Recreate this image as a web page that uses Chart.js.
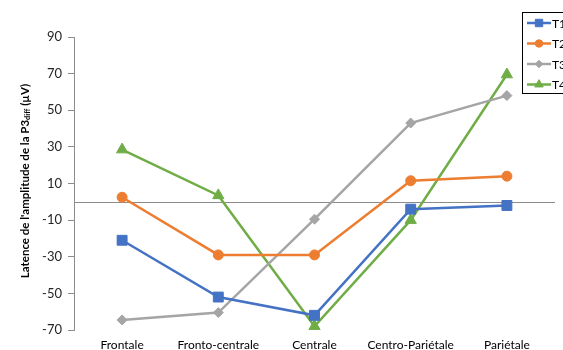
<!DOCTYPE html>
<html>
<head>
<meta charset="utf-8">
<script src="https://cdn.jsdelivr.net/npm/chart.js@4/dist/chart.umd.min.js"></script>
<style>
  html, body { margin: 0; padding: 0; background: #fff; }
  #wrap { width: 563px; height: 350px; position: relative; }
</style>
</head>
<body>
<div id="wrap"><canvas id="chart"></canvas></div>
<script>
// data
const regions = ['Frontale', 'Fronto-centrale', 'Centrale', 'Centro-Pariétale', 'Pariétale'];
const t1 = [-21, -52, -62, -4, -2];
const t2 = [2.5, -29, -29, 11.5, 14];
const t3 = [-64.5, -60.5, -9.5, 43, 58];
const t4 = [28.5, 3.5, -68, -10, 69.5];
const yTicks = [-70, -50, -30, -10, 10, 30, 50, 70, 90];

const FONT = 'Lato, "Open Sans", sans-serif';

function serie(label, data, color, style, radius) {
  return {
    label: label,
    data: data,
    borderColor: color,
    backgroundColor: color,
    borderWidth: 2.5,
    pointStyle: style,
    pointRadius: radius,
    pointHoverRadius: radius,
    pointBorderWidth: 1,
    tension: 0
  };
}

// zero line, y axis title with subscript, legend box
const extras = {
  id: 'extras',
  beforeDatasetsDraw(chart) {
    const ctx = chart.ctx;
    const a = chart.chartArea;
    const y0 = Math.round(chart.scales.y.getPixelForValue(0)) + 0.5;
    ctx.save();
    ctx.strokeStyle = '#8c8c8c';
    ctx.lineWidth = 1;
    ctx.beginPath();
    ctx.moveTo(a.left, y0);
    ctx.lineTo(a.right, y0);
    ctx.stroke();
    ctx.restore();
  },
  afterDraw(chart) {
    const ctx = chart.ctx;
    ctx.save();
    ctx.translate(25, 181);
    ctx.rotate(-Math.PI / 2);
    ctx.fillStyle = '#000';
    ctx.textBaseline = 'middle';
    const p1 = 'Latence de l\'amplitude de la P3';
    const sub = 'diff';
    const p2 = ' (µV)';
    ctx.font = 'bold 11.5px ' + FONT;
    const w1 = ctx.measureText(p1).width;
    const w3 = ctx.measureText(p2).width;
    ctx.font = 'bold 7.5px ' + FONT;
    const w2 = ctx.measureText(sub).width;
    let x = -(w1 + w2 + w3) / 2;
    ctx.font = 'bold 11.5px ' + FONT;
    ctx.fillText(p1, x, 0);
    x += w1;
    ctx.font = 'bold 7.5px ' + FONT;
    ctx.fillText(sub, x, 3);
    x += w2;
    ctx.font = 'bold 11.5px ' + FONT;
    ctx.fillText(p2, x, 0);
    ctx.restore();

    const bx = 522.5, by = 12.5, bw = 60, bh = 81;
    ctx.save();
    ctx.fillStyle = '#fff';
    ctx.fillRect(bx, by, bw, bh);
    ctx.strokeStyle = '#000';
    ctx.lineWidth = 1;
    ctx.strokeRect(bx, by, bw, bh);
    chart.data.datasets.forEach((ds, i) => {
      const ry = 23 + i * 20.5;
      ctx.strokeStyle = ds.borderColor;
      ctx.lineWidth = 2.5;
      ctx.beginPath();
      ctx.moveTo(527, ry);
      ctx.lineTo(551, ry);
      ctx.stroke();
      ctx.fillStyle = ds.borderColor;
      ctx.strokeStyle = ds.borderColor;
      ctx.lineWidth = 1;
      Chart.helpers.drawPoint(ctx, {
        pointStyle: ds.pointStyle,
        radius: ds.pointRadius * 0.75,
        rotation: 0,
        borderWidth: 1
      }, 539, ry);
      ctx.fillStyle = '#000';
      ctx.font = '12px ' + FONT;
      ctx.textBaseline = 'middle';
      ctx.fillText(ds.label, 552, ry + 1);
    });
    ctx.restore();
  }
};

new Chart(document.getElementById('chart'), {
  type: 'line',
  data: {
    labels: regions,
    datasets: [
      serie('T1', t1, '#4472C4', 'rect', 7),
      serie('T2', t2, '#ED7D31', 'circle', 5),
      serie('T3', t3, '#A5A5A5', 'rectRot', 5),
      serie('T4', t4, '#70AD47', 'triangle', 6.5)
    ]
  },
  options: {
    responsive: true,
    maintainAspectRatio: false,
    animation: false,
    layout: { padding: { top: 37, right: 4, left: 0, bottom: 0 } },
    plugins: {
      legend: { display: false },
      tooltip: { enabled: false }
    },
    scales: {
      x: {
        offset: true,
        grid: { display: false, drawTicks: false },
        border: { display: false },
        ticks: {
          color: '#000',
          font: { family: FONT, size: 12 },
          padding: 8,
          maxRotation: 0
        },
        afterFit(scale) { scale.height = 20; }
      },
      y: {
        min: -70,
        max: 90,
        afterBuildTicks(scale) {
          scale.ticks = yTicks.map(v => ({ value: v }));
        },
        grid: {
          drawOnChartArea: false,
          drawTicks: true,
          tickLength: 6,
          color: '#8c8c8c'
        },
        border: { display: true, color: '#8c8c8c', width: 1 },
        ticks: {
          color: '#262626',
          font: { family: FONT, size: 13 },
          padding: 6
        },
        afterFit(scale) { scale.width = 74; }
      }
    }
  },
  plugins: [extras]
});
</script>
</body>
</html>
